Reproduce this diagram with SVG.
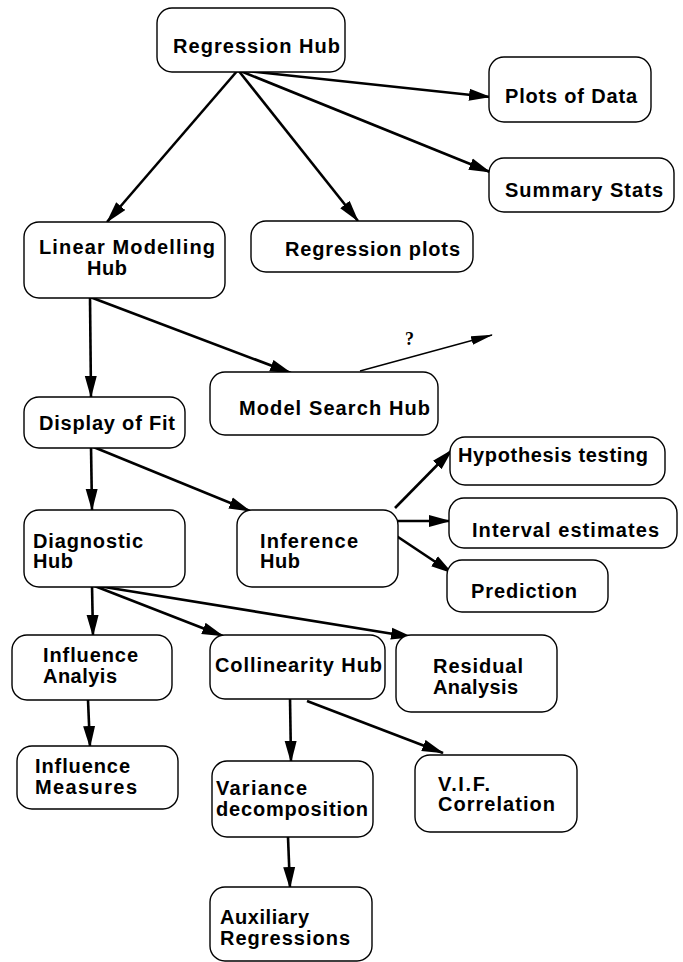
<svg xmlns="http://www.w3.org/2000/svg" width="683" height="962" viewBox="0 0 683 962">
<style>
.box{fill:#fff;stroke:#000;stroke-width:1.4}
.t{font-family:"Liberation Sans",Arial,Helvetica,sans-serif;font-size:20px;font-weight:bold;fill:#000}
.c{fill:none;stroke:#000;stroke-width:2.6;marker-end:url(#ah)}
.thin{fill:none;stroke:#000;stroke-width:1.3;marker-end:url(#ah2)}
.q{font-family:"Liberation Serif","Times New Roman",serif;font-size:18px;font-weight:bold;fill:#000}
</style>
<defs>
<marker id="ah" markerUnits="userSpaceOnUse" markerWidth="22" markerHeight="13" refX="21" refY="6.5" orient="auto" viewBox="0 0 22 13">
<path d="M0,0.5 L22,6.5 L0,12.5 z" fill="#000"/>
</marker>
<marker id="ah2" markerUnits="userSpaceOnUse" markerWidth="22" markerHeight="10" refX="21" refY="5" orient="auto" viewBox="0 0 22 10">
<path d="M0,0.5 L22,5 L0,9.5 z" fill="#000"/>
</marker>
</defs>
<rect width="683" height="962" fill="#fff"/>
<g id="connectors">
<path class="c" d="M238,70 L107,222"/>
<path class="c" d="M238,70 L358,221"/>
<path class="c" d="M238,70 L490,172"/>
<path class="c" d="M238,70 L490,97"/>
<path class="c" d="M90,297 L91,397"/>
<path class="c" d="M90,297 L291,373"/>
<path class="thin" d="M360,371 L492,335"/>
<path class="c" d="M91,446 L92,510"/>
<path class="c" d="M91,446 L250,511"/>
<path class="c" d="M395,508 L452,450"/>
<path class="c" d="M395,521 L450,521"/>
<path class="c" d="M395,535 L452,573"/>
<path class="c" d="M92,585 L93,636"/>
<path class="c" d="M92,585 L223,636"/>
<path class="c" d="M92,585 L412,637"/>
<path class="c" d="M88,700 L90,747"/>
<path class="c" d="M290,697 L291,762"/>
<path class="c" d="M307,701 L443,753"/>
<path class="c" d="M288,837 L290,888"/>
<text class="q" x="405" y="345">?</text>
</g>
<g id="regression-hub"><rect class="box" x="157" y="8" width="188" height="64" rx="15"/><text class="t" x="173" y="53" textLength="167" lengthAdjust="spacing">Regression Hub</text></g>
<g id="plots-of-data"><rect class="box" x="489" y="57" width="162" height="65" rx="15"/><text class="t" x="505" y="103" textLength="132" lengthAdjust="spacing">Plots of Data</text></g>
<g id="summary-stats"><rect class="box" x="489" y="158" width="185" height="54" rx="15"/><text class="t" x="505" y="197" textLength="158" lengthAdjust="spacing">Summary Stats</text></g>
<g id="linear-modelling-hub"><rect class="box" x="24" y="222" width="201" height="76" rx="15"/><text class="t" x="39" y="254" textLength="176" lengthAdjust="spacing">Linear Modelling</text><text class="t" x="87" y="275" textLength="40" lengthAdjust="spacing">Hub</text></g>
<g id="regression-plots"><rect class="box" x="251" y="221" width="222" height="51" rx="15"/><text class="t" x="285" y="256" textLength="175" lengthAdjust="spacing">Regression plots</text></g>
<g id="model-search-hub"><rect class="box" x="210" y="372" width="228" height="63" rx="15"/><text class="t" x="239" y="415" textLength="191" lengthAdjust="spacing">Model Search Hub</text></g>
<g id="display-of-fit"><rect class="box" x="24" y="397" width="161" height="51" rx="15"/><text class="t" x="39" y="430" textLength="136" lengthAdjust="spacing">Display of Fit</text></g>
<g id="diagnostic-hub"><rect class="box" x="24" y="510" width="161" height="77" rx="15"/><text class="t" x="33" y="548" textLength="110" lengthAdjust="spacing">Diagnostic</text><text class="t" x="33" y="568" textLength="40" lengthAdjust="spacing">Hub</text></g>
<g id="inference-hub"><rect class="box" x="237" y="510" width="161" height="77" rx="15"/><text class="t" x="260" y="548" textLength="98" lengthAdjust="spacing">Inference</text><text class="t" x="260" y="568" textLength="40" lengthAdjust="spacing">Hub</text></g>
<g id="hypothesis-testing"><rect class="box" x="450" y="437" width="215" height="48" rx="15"/><text class="t" x="458" y="462" textLength="190" lengthAdjust="spacing">Hypothesis testing</text></g>
<g id="interval-estimates"><rect class="box" x="449" y="498" width="228" height="50" rx="15"/><text class="t" x="472" y="537" textLength="187" lengthAdjust="spacing">Interval estimates</text></g>
<g id="prediction"><rect class="box" x="447" y="560" width="161" height="52" rx="15"/><text class="t" x="471" y="598" textLength="106" lengthAdjust="spacing">Prediction</text></g>
<g id="influence-analyis"><rect class="box" x="12" y="635" width="160" height="65" rx="15"/><text class="t" x="43" y="662" textLength="95" lengthAdjust="spacing">Influence</text><text class="t" x="43" y="683" textLength="74" lengthAdjust="spacing">Analyis</text></g>
<g id="collinearity-hub"><rect class="box" x="210" y="635" width="175" height="64" rx="15"/><text class="t" x="215" y="672" textLength="167" lengthAdjust="spacing">Collinearity Hub</text></g>
<g id="residual-analysis"><rect class="box" x="396" y="635" width="161" height="77" rx="15"/><text class="t" x="433" y="673" textLength="90" lengthAdjust="spacing">Residual</text><text class="t" x="433" y="694" textLength="85" lengthAdjust="spacing">Analysis</text></g>
<g id="influence-measures"><rect class="box" x="17" y="746" width="161" height="63" rx="15"/><text class="t" x="35" y="773" textLength="95" lengthAdjust="spacing">Influence</text><text class="t" x="35" y="794" textLength="102" lengthAdjust="spacing">Measures</text></g>
<g id="variance-decomposition"><rect class="box" x="212" y="761" width="161" height="76" rx="15"/><text class="t" x="216" y="795" textLength="91" lengthAdjust="spacing">Variance</text><text class="t" x="216" y="816" textLength="152" lengthAdjust="spacing">decomposition</text></g>
<g id="vif-correlation"><rect class="box" x="415" y="755" width="162" height="77" rx="15"/><text class="t" x="438" y="791" textLength="52" lengthAdjust="spacing">V.I.F.</text><text class="t" x="438" y="811" textLength="117" lengthAdjust="spacing">Correlation</text></g>
<g id="auxiliary-regressions"><rect class="box" x="210" y="887" width="162" height="74" rx="15"/><text class="t" x="220" y="924" textLength="89" lengthAdjust="spacing">Auxiliary</text><text class="t" x="220" y="945" textLength="130" lengthAdjust="spacing">Regressions</text></g>
</svg>
